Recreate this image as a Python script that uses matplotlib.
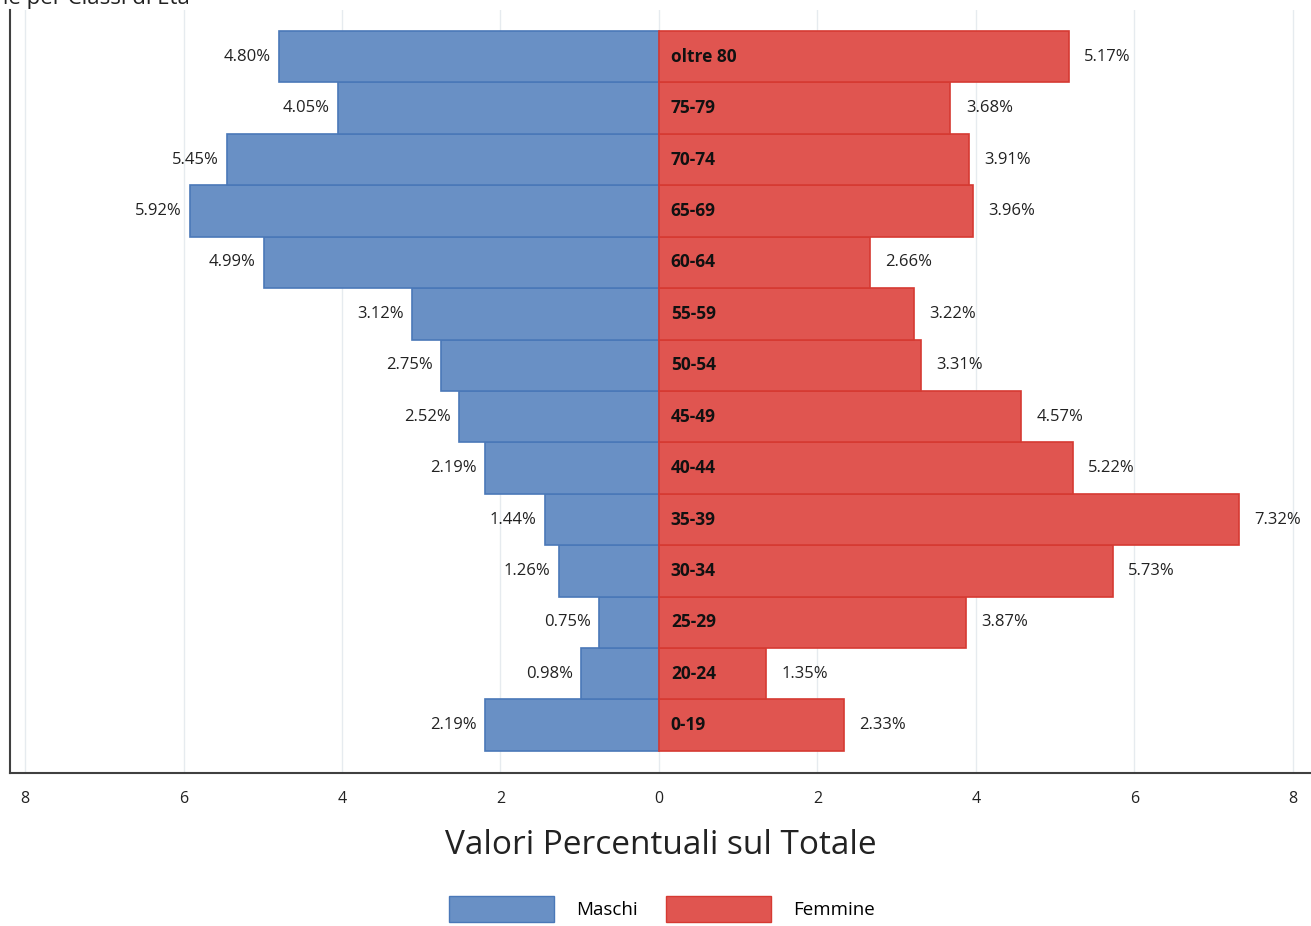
import matplotlib.pyplot as plt
from matplotlib.patches import Patch
import numpy as np

# Dati (dal basso verso l'alto)
classi = ['0-19', '20-24', '25-29', '30-34', '35-39', '40-44', '45-49',
          '50-54', '55-59', '60-64', '65-69', '70-74', '75-79', 'oltre 80']
maschi = [2.19, 0.98, 0.75, 1.26, 1.44, 2.19, 2.52, 2.75, 3.12, 4.99, 5.92, 5.45, 4.05, 4.80]
femmine = [2.33, 1.35, 3.87, 5.73, 7.32, 5.22, 4.57, 3.31, 3.22, 2.66, 3.96, 3.91, 3.68, 5.17]
ticks = [-8, -6, -4, -2, 0, 2, 4, 6, 8]

plt.rcParams['font.family'] = ['Open Sans', 'DejaVu Sans']

fig = plt.figure(figsize=(13.11, 9.26), dpi=100)
ax = fig.add_axes([10 / 1311, 153 / 926, 1301 / 1311, 763 / 926])

y = np.arange(len(classi))
blu = '#6990c5'
rosso = '#e05550'

ax.barh(y, [-m for m in maschi], height=1.0, color=blu, edgecolor='#4a78b8', linewidth=1.2, zorder=2)
ax.barh(y, femmine, height=1.0, color=rosso, edgecolor='#d63a32', linewidth=1.2, zorder=2)

for i in range(len(classi)):
    ax.annotate(f'{maschi[i]:.2f}%', (-maschi[i], y[i]), xytext=(-6, 0), textcoords='offset points',
                ha='right', va='center', fontsize=12, color='#222222')
    ax.annotate(f'{femmine[i]:.2f}%', (femmine[i], y[i]), xytext=(11, 0), textcoords='offset points',
                ha='left', va='center', fontsize=12, color='#222222', annotation_clip=False)
    ax.text(0.15, y[i], classi[i], ha='left', va='center', fontsize=12.5,
            fontweight='bold', color='#111111', zorder=3)

ax.set_xlim(-8.19, 8.23)
ax.set_ylim(-0.93, len(classi) - 1 + 0.91)
ax.set_xticks(ticks)
ax.set_xticklabels([str(abs(t)) for t in ticks], fontsize=11.5, color='#222222')
ax.set_yticks([])
ax.tick_params(axis='x', length=0, pad=13)
ax.grid(axis='x', color='#e6ebef', linewidth=1, zorder=0)

for s in ['top', 'right']:
    ax.spines[s].set_visible(False)
for s in ['left', 'bottom']:
    ax.spines[s].set_color('#404040')
    ax.spines[s].set_linewidth(1.5)

ax.set_xlabel('Valori Percentuali sul Totale', fontsize=24, color='#222222', labelpad=16)

# titolo tagliato in alto, come nel riferimento
fig.text(190 / 1311, 1 + 1 / 926, 'Distribuzione per Classi di Età', ha='right', va='center',
         fontsize=16, color='#222222')

handles = [Patch(facecolor=blu, edgecolor='#4a78b8', label='Maschi'),
           Patch(facecolor=rosso, edgecolor='#d63a32', label='Femmine')]
fig.legend(handles=handles, loc='upper center', bbox_to_anchor=(0.505, 1 - 888 / 926), ncol=2,
           frameon=False, fontsize=13.5, handlelength=5.6, handleheight=1.8,
           handletextpad=1.2, columnspacing=1.5, borderaxespad=0)

fig.savefig('out.png', dpi=100)
